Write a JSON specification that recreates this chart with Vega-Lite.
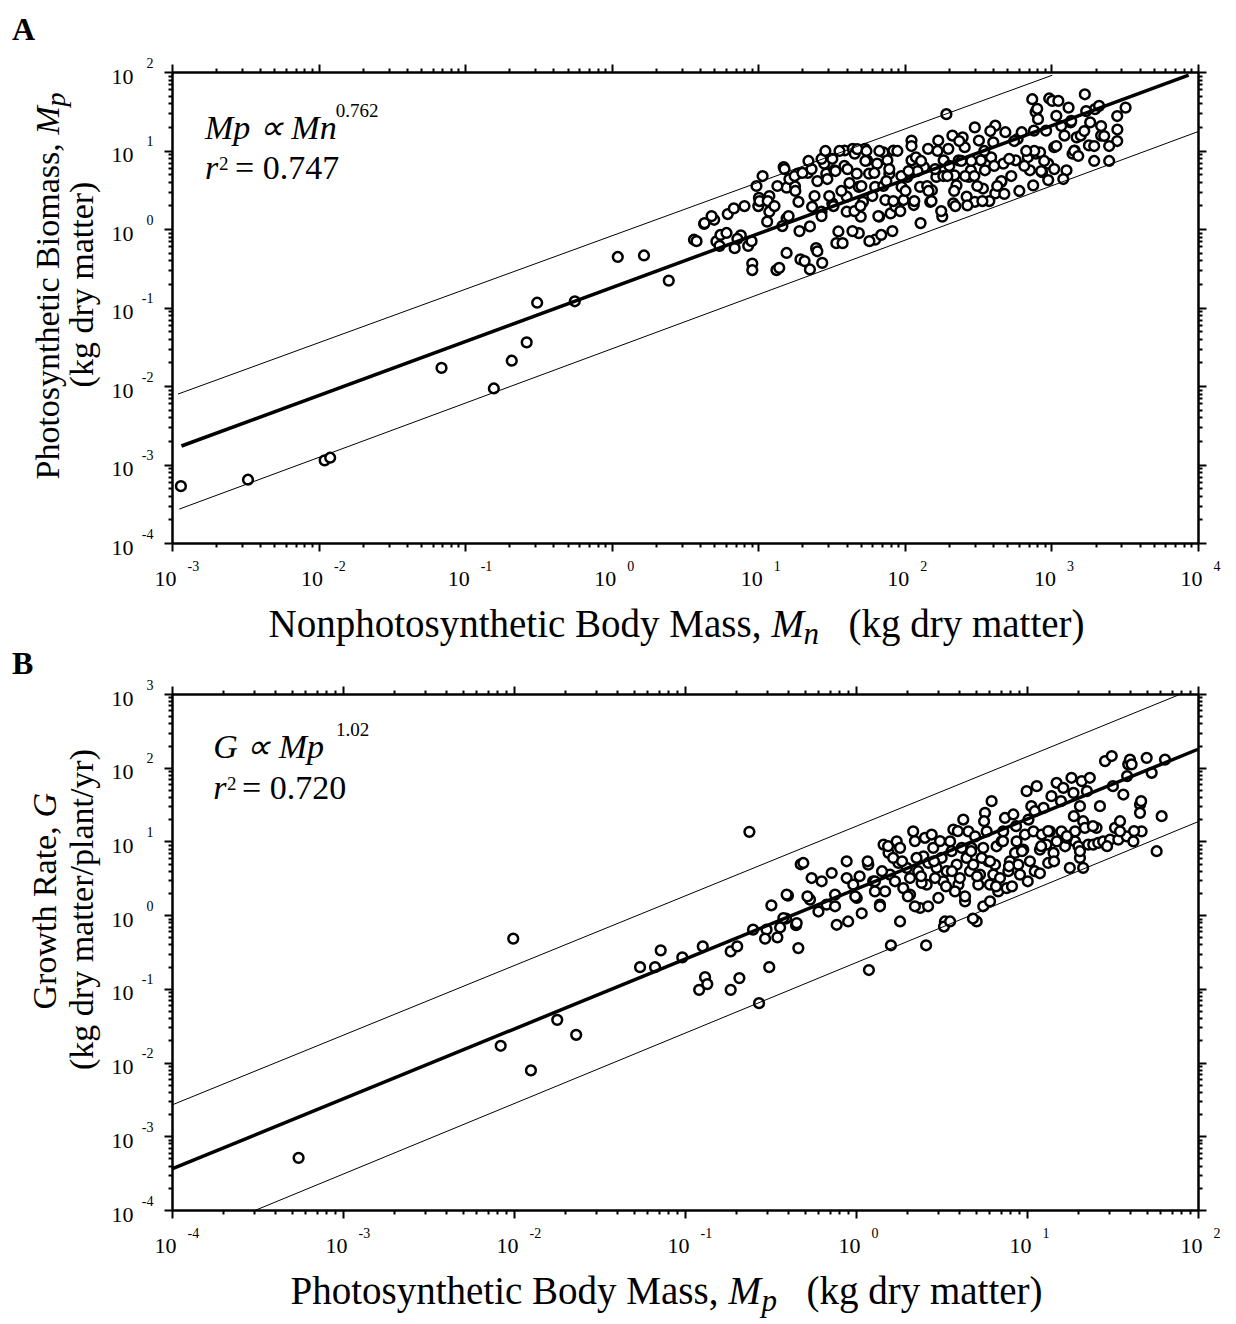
{
  "$schema": "https://vega.github.io/schema/vega-lite/v6.json",
  "background": "white",
  "autosize": {"type": "pad"},
  "padding": {"left": 12, "top": 14, "right": 10, "bottom": 4},
  "bounds": "flush",
  "spacing": 151,
  "config": {
    "font": "Liberation Serif",
    "view": {"stroke": null},
    "axis": {
      "grid": false,
      "domainColor": "black",
      "domainWidth": 2.5,
      "tickColor": "black",
      "tickWidth": 2,
      "labelFont": "Liberation Serif",
      "labelColor": "black",
      "titleFont": "Liberation Serif",
      "titleColor": "black",
      "titleFontWeight": "normal",
      "labelOverlap": false,
      "labelFlush": false,
      "labelBound": false
    }
  },
  "datasets": {
    "ptsA": [
      {"x":0.00115,"y":0.00053},{"x":0.0033,"y":0.00064},{"x":0.011,"y":0.00113},{"x":0.012,"y":0.00122},{"x":0.069,"y":0.017},{"x":0.157,"y":0.0093},{"x":0.208,"y":0.021},{"x":0.263,"y":0.036},{"x":0.31,"y":0.115},{"x":0.56,"y":0.12},{"x":1.1,"y":0.44},{"x":1.66,"y":0.46},{"x":2.45,"y":0.22},
      {"x":3.64,"y":0.73},{"x":4.27,"y":1.16},{"x":5.0,"y":1.31},{"x":5.18,"y":0.695},{"x":5.52,"y":0.84},{"x":6.19,"y":1.55},{"x":6.81,"y":1.83},{"x":6.9,"y":0.57},{"x":7.6,"y":0.83},{"x":8.53,"y":0.61},{"x":9.1,"y":0.363},{"x":9.1,"y":0.3},{"x":10.1,"y":2.5},{"x":10,"y":1.96},{"x":11.9,"y":1.66},{"x":11.5,"y":1.24},{"x":13.3,"y":0.3},{"x":13.9,"y":0.32},{"x":14.9,"y":6.15},{"x":15.6,"y":3.37},{"x":15.6,"y":1.37},{"x":15.6,"y":0.495},{"x":17.8,"y":3.5},{"x":18.6,"y":5.07},{"x":18.8,"y":2.22},{"x":19.4,"y":0.41},{"x":21.8,"y":5.17},{"x":22.5,"y":0.305},{"x":22.5,"y":1.08},{"x":23.3,"y":1.92},{"x":24.8,"y":0.57},{"x":25.3,"y":0.52},{"x":27,"y":1.66},{"x":27.3,"y":0.37},{"x":28.2,"y":6.8},{"x":29.1,"y":5.07},{"x":32,"y":7.85},{"x":32,"y":2.12},{"x":33,"y":5.6},{"x":35.2,"y":0.93},{"x":34.1,"y":0.66},{"x":37.6,"y":0.66},{"x":38.8,"y":10},{"x":40.1,"y":2.58},{"x":40.1,"y":1.66},{"x":44.1,"y":10.5},{"x":45.5,"y":9.1},{"x":47,"y":5.07},{"x":48.5,"y":3.44},{"x":48.5,"y":0.885},{"x":50,"y":1.44},{"x":51.8,"y":2.22},{"x":53.4,"y":10.5},{"x":55.2,"y":7.5},{"x":57,"y":5.07},{"x":62.7,"y":3.44},{"x":62.7,"y":0.73},{"x":64.7,"y":6.8},{"x":66.8,"y":1.44},{"x":69,"y":0.84},{"x":71.3,"y":9.5},{"x":73.6,"y":2.34},{"x":76,"y":7.5},{"x":78.4,"y":5.07},{"x":80,"y":1.58},{"x":83.6,"y":10},{"x":86.3,"y":1.92},{"x":95,"y":3.44},{"x":98,"y":2.34},{"x":104,"y":4.6},{"x":111,"y":13.4},{"x":111,"y":7.5},{"x":115,"y":2.02},{"x":119,"y":8.2},{"x":127,"y":3.44},{"x":135,"y":6.15},{"x":144,"y":10.5},{"x":149,"y":2.22},{"x":153,"y":3.12},{"x":164,"y":4.6},{"x":169,"y":13.4},{"x":180,"y":1.44},{"x":184,"y":7.5},{"x":192,"y":29},{"x":198,"y":10.5},{"x":211,"y":15.5},{"x":214,"y":2.12},{"x":218,"y":4.83},{"x":225,"y":3.6},{"x":233,"y":7.5},{"x":248,"y":14.7},{"x":256,"y":11},{"x":264,"y":2.58},{"x":273,"y":4.6},{"x":282,"y":5.6},{"x":300,"y":19.7},{"x":300,"y":2.22},{"x":320,"y":13.4},{"x":330,"y":7.5},{"x":341,"y":3.28},{"x":352,"y":5.6},{"x":388,"y":8.2},{"x":401,"y":12.7},{"x":414,"y":2.84},{"x":414,"y":20.7},{"x":455,"y":3.98},{"x":470,"y":6.8},{"x":485,"y":17.1},{"x":740,"y":45},{"x":780,"y":31},{"x":800,"y":34},{"x":570,"y":7.5},{"x":588,"y":14},{"x":966,"y":46},{"x":627,"y":17.1},{"x":690,"y":8.2},{"x":713,"y":5.6},{"x":760,"y":17.9},{"x":784,"y":9.1},{"x":810,"y":25.1},{"x":836,"y":9.5},{"x":863,"y":5.3},{"x":920,"y":17.9},{"x":950,"y":6.8},{"x":1013,"y":42.8},{"x":1045,"y":11},{"x":1080,"y":27.7},{"x":1115,"y":42.8},{"x":1227,"y":15.5},{"x":1267,"y":5.6},{"x":1309,"y":35.2},{"x":1352,"y":22.8},{"x":1394,"y":9.1},{"x":1440,"y":10},{"x":1486,"y":14.7},{"x":1585,"y":15.5},{"x":1690,"y":52},{"x":1803,"y":11.6},{"x":1838,"y":22.8},{"x":1983,"y":33.6},{"x":2113,"y":37},{"x":2183,"y":15.5},{"x":2818,"y":18.5},{"x":3206,"y":35.2},
      {"x":3.79,"y":0.70},{"x":4.3,"y":1.19},{"x":4.8,"y":1.46},{"x":5.44,"y":0.61},{"x":6.07,"y":0.89},{"x":7.2,"y":0.75},{"x":8.05,"y":1.96},{"x":9.0,"y":0.70},{"x":10.2,"y":2.27},{"x":11.9,"y":2.63},{"x":13.5,"y":3.53},{"x":15.1,"y":5.8},{"x":16.3,"y":4.33},{"x":17.7,"y":4.73},{"x":19.1,"y":0.94},{"x":20.7,"y":0.39},{"x":23.1,"y":5.8},{"x":25.3,"y":4.08},{"x":27,"y":7.8},{"x":28.7,"y":9.86},{"x":30.5,"y":2.63},{"x":33.6,"y":5.48},{"x":35.8,"y":9.86},{"x":38.7,"y":6.35},{"x":41.9,"y":3.85},{"x":45.3,"y":1.69},{"x":47.4,"y":10.4},{"x":50.5,"y":3.53},{"x":53.8,"y":7.35},{"x":57.3,"y":0.70},{"x":61.9,"y":5.17},{"x":67,"y":9.86},{"x":71.3,"y":3.53},{"x":78.3,"y":5.8},{"x":83.5,"y":2.27},{"x":88.9,"y":9.86},{"x":94.6,"y":4.73},{"x":101,"y":3.05},{"x":111,"y":11.4},{"x":122,"y":5.48},{"x":129,"y":7.35},{"x":142,"y":3.53},{"x":152,"y":2.27},{"x":167,"y":9.86},{"x":183,"y":4.73},{"x":201,"y":6.35},{"x":217,"y":3.05},{"x":235,"y":13.2},{"x":258,"y":4.73},{"x":284,"y":7.35},{"x":312,"y":3.53},{"x":348,"y":9.86},{"x":377,"y":2.27},{"x":407,"y":6.35},{"x":455,"y":4.08},{"x":515,"y":7.8},{"x":557,"y":13.2},{"x":653,"y":6.35},{"x":764,"y":9.86},{"x":893,"y":7.35},{"x":1045,"y":5.8},{"x":1167,"y":20.5},{"x":1429,"y":9.86},{"x":1675,"y":17.7},{"x":1958,"y":11.4},{"x":2291,"y":15.3},{"x":2477,"y":7.35},{"x":2811,"y":13.2},
      {"x":9.72,"y":3.53},{"x":10.7,"y":4.73},{"x":11.6,"y":2.27},{"x":12.9,"y":1.96},{"x":14.6,"y":1.09},{"x":16.1,"y":1.46},{"x":17.9,"y":3.05},{"x":20,"y":5.17},{"x":22,"y":7.35},{"x":24.2,"y":2.63},{"x":27,"y":1.46},{"x":29.6,"y":4.33},{"x":32.6,"y":1.96},{"x":36.9,"y":3.05},{"x":40.6,"y":5.8},{"x":43.9,"y":0.94},{"x":49.8,"y":1.96},{"x":54.7,"y":9.86},{"x":60,"y":2.63},{"x":65.9,"y":1.46},{"x":74.8,"y":4.08},{"x":82.2,"y":0.94},{"x":93.1,"y":1.69},{"x":106,"y":5.48},{"x":116,"y":2.27},{"x":128,"y":1.19},{"x":145,"y":3.05},{"x":161,"y":5.8},{"x":177,"y":1.69},{"x":195,"y":4.73},{"x":221,"y":1.96},{"x":243,"y":7.35},{"x":267,"y":2.0},{"x":298,"y":4.73},{"x":338,"y":2.27},{"x":383,"y":17.7},{"x":427,"y":3.53},{"x":477,"y":2.8},{"x":532,"y":4.73},{"x":604,"y":3.05},{"x":673,"y":9.86},{"x":751,"y":3.6},{"x":851,"y":5.48},{"x":951,"y":4.2},{"x":1079,"y":11.4},{"x":1205,"y":4.33},{"x":1365,"y":23.8},{"x":1524,"y":8.51},{"x":1726,"y":31.8},{"x":1958,"y":7.35},{"x":2183,"y":20.5},{"x":2477,"y":11.4},{"x":2811,"y":27.5}
    ],
    "ptsB": [
      {"x":0.00055,"y":0.00051},
      {"x":0.0099,"y":0.48},{"x":0.0179,"y":0.038},{"x":0.0231,"y":0.0238},{"x":0.00836,"y":0.0169},{"x":0.01256,"y":0.00785},{"x":0.238,"y":13.5},{"x":0.0546,"y":0.197},{"x":0.0668,"y":0.197},{"x":0.0721,"y":0.333},{"x":0.0964,"y":0.267},{"x":0.127,"y":0.377},{"x":0.131,"y":0.144},{"x":0.121,"y":0.097},{"x":0.135,"y":0.116},{"x":0.185,"y":0.322},{"x":0.202,"y":0.377},{"x":0.208,"y":0.14},{"x":0.185,"y":0.097},{"x":0.271,"y":0.064},{"x":0.311,"y":0.197},{"x":0.25,"y":0.635},{"x":0.30,"y":0.635},{"x":0.294,"y":0.48},{"x":0.347,"y":0.5},{"x":0.36,"y":0.68},{"x":0.39,"y":0.9},{"x":0.32,"y":1.36},{"x":0.40,"y":1.84},{"x":0.446,"y":0.73},{"x":0.46,"y":0.357},{"x":0.475,"y":4.9},
      {"x":0.393,"y":1.9},{"x":0.376,"y":0.914},{"x":0.45,"y":0.78},{"x":0.492,"y":5.1},{"x":0.55,"y":3.19},{"x":0.538,"y":1.62},{"x":0.603,"y":1.12},{"x":0.673,"y":1.39},{"x":0.721,"y":3.73},{"x":0.754,"y":1.9},{"x":0.771,"y":0.74},{"x":0.882,"y":5.38},{"x":0.882,"y":3.19},{"x":0.964,"y":2.59},{"x":1.01,"y":1.71},{"x":1.18,"y":4.84},{"x":1.26,"y":2.88},{"x":1.38,"y":1.39},{"x":1.48,"y":2.1},{"x":1.55,"y":6.98},{"x":1.58,"y":3.55},{"x":1.73,"y":10},{"x":1.77,"y":5.1},{"x":1.89,"y":2.33},{"x":2.07,"y":1.9},{"x":2.16,"y":13.7},{"x":2.31,"y":3.94},{"x":2.37,"y":1.25},{"x":2.48,"y":6.29},{"x":2.53,"y":11.2},{"x":2.59,"y":2.59},{"x":2.77,"y":12.4},{"x":2.96,"y":4.37},{"x":3.03,"y":1.71},{"x":3.24,"y":2.88},{"x":3.31,"y":0.82},{"x":3.55,"y":10},{"x":3.71,"y":14.5},{"x":3.88,"y":4.84},{"x":3.97,"y":2.59},{"x":4.15,"y":8.17},{"x":4.24,"y":19.8},{"x":4.34,"y":1.54},{"x":4.54,"y":13.7},{"x":4.64,"y":3.94},{"x":4.97,"y":11.7},{"x":5.08,"y":0.82},{"x":5.19,"y":2.59},{"x":5.55,"y":8.17},{"x":5.55,"y":1.32},{"x":5.68,"y":24.4},{"x":5.81,"y":13.7},{"x":5.94,"y":5.38},{"x":6.21,"y":35.2},{"x":6.35,"y":3.55},{"x":6.64,"y":8.6},{"x":6.79,"y":2.1},{"x":7.26,"y":13.7},{"x":7.43,"y":20.8},{"x":7.6,"y":2.33},{"x":7.94,"y":5.38},{"x":8.32,"y":23.2},{"x":8.69,"y":10},{"x":8.89,"y":4.84},{"x":9.51,"y":7.74},{"x":9.95,"y":48.1},{"x":10.2,"y":19.8},{"x":10.4,"y":5.38},{"x":10.6,"y":30.1},{"x":11.4,"y":56.2},{"x":11.9,"y":7.74},{"x":12.5,"y":28.5},{"x":13.3,"y":5.1},{"x":13.6,"y":13.7},{"x":13.9,"y":41.1},{"x":14.3,"y":6.98},{"x":14.9,"y":62.4},{"x":15.9,"y":13.7},{"x":16.3,"y":53.3},{"x":16.7,"y":8.6},{"x":17.8,"y":4.37},{"x":18.2,"y":73},{"x":18.7,"y":45.6},{"x":19.1,"y":10},{"x":20,"y":8.6},{"x":20.4,"y":30.1},{"x":20.9,"y":65.8},{"x":21.3,"y":18.8},{"x":21.8,"y":15.3},{"x":22.8,"y":9.06},{"x":23.3,"y":73},{"x":24.4,"y":9.06},{"x":26.1,"y":9.55},{"x":27.9,"y":10},{"x":28.6,"y":123},{"x":30.6,"y":10.6},{"x":31.3,"y":144},{"x":32.7,"y":15.3},{"x":34.2,"y":10.6},{"x":36.6,"y":43.3},{"x":38.3,"y":11.7},{"x":39.1,"y":111},{"x":40,"y":129},{"x":40.9,"y":111},{"x":45.8,"y":31.7},{"x":45.8,"y":24.4},{"x":50.1,"y":136},{"x":53.6,"y":85.3},{"x":57.3,"y":7.36},{"x":61.3,"y":22},{"x":64.1,"y":129},
      {"x":1.45,"y":9.06},{"x":1.65,"y":5.97},{"x":1.81,"y":8.17},{"x":1.98,"y":4.37},{"x":2.07,"y":3.19},{"x":2.26,"y":5.97},{"x":2.42,"y":2.73},{"x":2.65,"y":5.1},{"x":2.83,"y":8.17},{"x":2.9,"y":3.19},{"x":3.17,"y":5.97},{"x":3.39,"y":3.94},{"x":3.62,"y":7.36},{"x":3.79,"y":2.1},{"x":4.05,"y":3.19},{"x":4.43,"y":5.97},{"x":4.74,"y":8.17},{"x":4.85,"y":4.84},{"x":5.31,"y":3.55},{"x":5.43,"y":5.97},{"x":6.07,"y":2.59},{"x":6.5,"y":4.84},{"x":6.95,"y":3.19},{"x":7.11,"y":10},{"x":7.78,"y":3.94},{"x":8.51,"y":6.98},{"x":9.1,"y":3.55},{"x":9.73,"y":12.4},{"x":10.9,"y":13.7},{"x":11.1,"y":3.94},{"x":12.2,"y":12.4},{"x":13,"y":9.06},{"x":14.9,"y":10},{"x":17.1,"y":11.2},{"x":19.1,"y":13.7},{"x":20.4,"y":5.97},{"x":21.3,"y":4.37},{"x":25.5,"y":15.3},{"x":35,"y":13.7},{"x":41.9,"y":10},{"x":46.8,"y":13.7},
      {"x":1.19,"y":0.18},{"x":1.6,"y":0.39},{"x":2.57,"y":0.39},{"x":3.27,"y":0.70},{"x":3.55,"y":0.82},{"x":4.83,"y":0.9},{"x":6.08,"y":1.54},{"x":8.17,"y":2.46},{"x":11.9,"y":3.7},{"x":0.754,"y":1.32},{"x":0.9,"y":0.82},{"x":1.08,"y":1.06},{"x":1.38,"y":1.32},{"x":1.81,"y":0.82},{"x":2.21,"y":1.32},{"x":0.63,"y":2.88},{"x":0.52,"y":1.8},{"x":0.99,"y":1.8},{"x":1.29,"y":2.88},
      {"x":1.05,"y":3.37},{"x":1.17,"y":5.38},{"x":1.29,"y":2.1},{"x":1.42,"y":3.94},{"x":1.54,"y":8.61},{"x":1.69,"y":2.88},{"x":1.86,"y":5.38},{"x":2.01,"y":1.8},{"x":2.21,"y":10.1},{"x":2.4,"y":3.37},{"x":2.64,"y":1.32},{"x":2.86,"y":5.38},{"x":3.1,"y":10.1},{"x":3.36,"y":2.46},{"x":3.64,"y":3.94},{"x":3.94,"y":13.8},{"x":4.34,"y":1.8},{"x":4.71,"y":7.36},{"x":5.1,"y":3.37},{"x":5.61,"y":18.8},{"x":6.08,"y":5.38},{"x":6.59,"y":2.46},{"x":7.24,"y":10.1},{"x":7.85,"y":4.6},{"x":8.63,"y":16.1},{"x":9.35,"y":7.36},{"x":10.1,"y":2.88},{"x":11.1,"y":25.7},{"x":12.1,"y":8.61},{"x":13.3,"y":13.8},{"x":14.4,"y":5.38},{"x":15.8,"y":35.2},{"x":17.1,"y":11.8},{"x":18.8,"y":22},{"x":20.4,"y":7.36},{"x":22.4,"y":48.1},{"x":24.3,"y":16.1},{"x":26.7,"y":30.1},{"x":29.4,"y":8.61},{"x":31.8,"y":56.2},{"x":35,"y":18.8},{"x":38.5,"y":76.9},{"x":42.3,"y":13.8},{"x":46.5,"y":35.2}
    ],
    "linesA": [
      {"g":"upper","x":0.0011,"y":0.0079},{"g":"upper","x":1014,"y":91},
      {"g":"lower","x":0.00112,"y":0.00027},{"g":"lower","x":10000,"y":17.4}
    ],
    "fitA": [{"x":0.00116,"y":0.00172},{"x":8630,"y":91}],
    "linesB": [
      {"g":"upper","x":0.0001,"y":0.00266},{"g":"upper","x":79.4,"y":1000},
      {"g":"lower","x":0.00031,"y":0.0001},{"g":"lower","x":100,"y":18.5}
    ],
    "fitB": [{"x":0.0001,"y":0.00036},{"x":100,"y":178}],
    "annA_it": [{"x":0.00168,"y":14.0,"t":"Mp ∝ Mn"},{"x":0.00168,"y":4.34,"t":"r"}],
    "annA_reg": [{"x":0.00269,"y":4.34,"t":"= 0.747"}],
    "annA_sup": [{"x":0.01312,"y":26.7,"t":"0.762"},{"x":0.00209,"y":5.6,"t":"2"}],
    "annB_it": [{"x":0.000174,"y":135,"t":"G  ∝ Mp"},{"x":0.000174,"y":37.4,"t":"r"}],
    "annB_reg": [{"x":0.000257,"y":37.4,"t":"= 0.720"}],
    "annB_sup": [{"x":0.00091,"y":268,"t":"1.02"},{"x":0.00021,"y":50,"t":"2"}]
  },
  "vconcat": [
    {
      "width": 1026,
      "height": 471,
      "title": {"text": "A", "anchor": "start", "frame": "group", "dx": -160, "offset": -16, "baseline": "alphabetic", "font": "Liberation Serif", "fontSize": 32, "fontWeight": "bold", "color": "black"},
      "resolve": {"axis": {"x": "independent", "y": "independent"}},
      "layer": [
        {
          "data": {"name": "ptsA"},
          "mark": {"type": "circle", "size": 95, "fill": "white", "stroke": "black", "strokeWidth": 2.5, "opacity": 1},
          "encoding": {
            "x": {"field": "x", "type": "quantitative", "scale": {"type": "log", "domain": [0.001, 10000], "nice": false},
              "axis": {"orient": "bottom", "values": [0.001,0.002,0.003,0.004,0.005,0.006,0.007,0.008,0.009,0.01,0.02,0.03,0.04,0.05,0.06,0.07,0.08,0.09,0.1,0.2,0.3,0.4,0.5,0.6,0.7,0.8,0.9,1,2,3,4,5,6,7,8,9,10,20,30,40,50,60,70,80,90,100,200,300,400,500,600,700,800,900,1000,2000,3000,4000,5000,6000,7000,8000,9000,10000],
                "labelExpr": "abs(log(datum.value)/LN10 - round(log(datum.value)/LN10)) < 0.001 ? '10' : ''",
                "labelFontSize": 22, "labelPadding": 17, "labelOffset": -7, "labelBaseline": "top",
                "tickSize": {"condition": {"test": "abs(log(datum.value)/LN10 - round(log(datum.value)/LN10)) < 0.001", "value": 8}, "value": 4},
                "title": "Nonphotosynthetic Body Mass,", "titleFontSize": 39, "titleX": 96, "titleY": 93, "titleAlign": "left", "titleBaseline": "alphabetic", "titleAngle": 0}},
            "y": {"field": "y", "type": "quantitative", "scale": {"type": "log", "domain": [0.0001, 100], "nice": false},
              "axis": {"orient": "left", "values": [0.0001,0.0002,0.0003,0.0004,0.0005,0.0006,0.0007,0.0008,0.0009,0.001,0.002,0.003,0.004,0.005,0.006,0.007,0.008,0.009,0.01,0.02,0.03,0.04,0.05,0.06,0.07,0.08,0.09,0.1,0.2,0.3,0.4,0.5,0.6,0.7,0.8,0.9,1,2,3,4,5,6,7,8,9,10,20,30,40,50,60,70,80,90,100],
                "labelExpr": "abs(log(datum.value)/LN10 - round(log(datum.value)/LN10)) < 0.001 ? '10' : ''",
                "labelFontSize": 22, "labelPadding": 31, "labelOffset": 4, "labelAlign": "right", "labelBaseline": "middle",
                "tickSize": {"condition": {"test": "abs(log(datum.value)/LN10 - round(log(datum.value)/LN10)) < 0.001", "value": 8}, "value": 4},
                "title": "Photosynthetic Biomass,", "titleFontSize": 34, "titleX": -114, "titleY": 407, "titleAlign": "left", "titleBaseline": "alphabetic", "titleAngle": 270}}
          }
        },
        {
          "data": {"name": "linesA"},
          "mark": {"type": "line", "color": "black", "strokeWidth": 1},
          "encoding": {
            "x": {"field": "x", "type": "quantitative", "scale": {"type": "log", "domain": [0.001, 10000], "nice": false},
              "axis": {"orient": "bottom", "values": [0.001,0.01,0.1,1,10,100,1000,10000], "labelExpr": "'' + round(log(datum.value)/LN10)",
                "labelFontSize": 14, "labelPadding": 16, "labelOffset": 15, "labelAlign": "left", "labelBaseline": "top", "ticks": false, "domain": false,
                "title": "(kg dry matter)", "titleFontSize": 39, "titleX": 676, "titleY": 93, "titleAlign": "left", "titleBaseline": "alphabetic", "titleAngle": 0}},
            "y": {"field": "y", "type": "quantitative", "scale": {"type": "log", "domain": [0.0001, 100], "nice": false},
              "axis": {"orient": "left", "values": [0.0001,0.001,0.01,0.1,1,10,100], "labelExpr": "'' + round(log(datum.value)/LN10)",
                "labelFontSize": 14, "labelPadding": 19, "labelOffset": -9, "labelAlign": "right", "labelBaseline": "middle", "ticks": false, "domain": false,
                "title": "(kg dry matter)", "titleFontSize": 34, "titleX": -80, "titleY": 212, "titleAlign": "center", "titleBaseline": "alphabetic", "titleAngle": 270}},
            "detail": {"field": "g", "type": "nominal"}
          }
        },
        {
          "data": {"name": "fitA"},
          "mark": {"type": "line", "color": "black", "strokeWidth": 3.5},
          "encoding": {
            "x": {"field": "x", "type": "quantitative", "scale": {"type": "log", "domain": [0.001, 10000], "nice": false},
              "axis": {"orient": "top", "values": [0.001,0.002,0.003,0.004,0.005,0.006,0.007,0.008,0.009,0.01,0.02,0.03,0.04,0.05,0.06,0.07,0.08,0.09,0.1,0.2,0.3,0.4,0.5,0.6,0.7,0.8,0.9,1,2,3,4,5,6,7,8,9,10,20,30,40,50,60,70,80,90,100,200,300,400,500,600,700,800,900,1000,2000,3000,4000,5000,6000,7000,8000,9000,10000],
                "labels": false,
                "tickSize": {"condition": {"test": "abs(log(datum.value)/LN10 - round(log(datum.value)/LN10)) < 0.001", "value": 8}, "value": 4},
                "title": "M", "titleFontStyle": "italic", "titleFontSize": 39, "titleX": 599, "titleY": 564, "titleAlign": "left", "titleBaseline": "alphabetic", "titleAngle": 0}},
            "y": {"field": "y", "type": "quantitative", "scale": {"type": "log", "domain": [0.0001, 100], "nice": false},
              "axis": {"orient": "right", "values": [0.0001,0.0002,0.0003,0.0004,0.0005,0.0006,0.0007,0.0008,0.0009,0.001,0.002,0.003,0.004,0.005,0.006,0.007,0.008,0.009,0.01,0.02,0.03,0.04,0.05,0.06,0.07,0.08,0.09,0.1,0.2,0.3,0.4,0.5,0.6,0.7,0.8,0.9,1,2,3,4,5,6,7,8,9,10,20,30,40,50,60,70,80,90,100],
                "labels": false,
                "tickSize": {"condition": {"test": "abs(log(datum.value)/LN10 - round(log(datum.value)/LN10)) < 0.001", "value": 8}, "value": 4},
                "title": "M", "titleFontStyle": "italic", "titleFontSize": 34, "titleX": -1140, "titleY": 62, "titleAlign": "left", "titleBaseline": "alphabetic", "titleAngle": 270}}
          }
        },
        {
          "data": {"name": "annA_it"},
          "mark": {"type": "text", "align": "left", "baseline": "alphabetic", "font": "Liberation Serif", "fontStyle": "italic", "fontSize": 34, "color": "black"},
          "encoding": {
            "x": {"field": "x", "type": "quantitative", "scale": {"type": "log", "domain": [0.001, 10000], "nice": false},
              "axis": {"orient": "bottom", "labels": false, "ticks": false, "domain": false, "title": "n", "titleFontStyle": "italic", "titleFontSize": 31, "titleX": 631, "titleY": 100, "titleAlign": "left", "titleBaseline": "alphabetic", "titleAngle": 0}},
            "y": {"field": "y", "type": "quantitative", "scale": {"type": "log", "domain": [0.0001, 100], "nice": false},
              "axis": {"orient": "left", "labels": false, "ticks": false, "domain": false, "title": "p", "titleFontStyle": "italic", "titleFontSize": 28, "titleX": -108, "titleY": 34, "titleAlign": "left", "titleBaseline": "alphabetic", "titleAngle": 270}},
            "text": {"field": "t", "type": "nominal"}
          }
        },
        {
          "data": {"name": "annA_reg"},
          "mark": {"type": "text", "align": "left", "baseline": "alphabetic", "font": "Liberation Serif", "fontSize": 34, "color": "black"},
          "encoding": {
            "x": {"field": "x", "type": "quantitative", "scale": {"type": "log", "domain": [0.001, 10000], "nice": false}, "axis": null},
            "y": {"field": "y", "type": "quantitative", "scale": {"type": "log", "domain": [0.0001, 100], "nice": false}, "axis": null},
            "text": {"field": "t", "type": "nominal"}
          }
        },
        {
          "data": {"name": "annA_sup"},
          "mark": {"type": "text", "align": "left", "baseline": "alphabetic", "font": "Liberation Serif", "fontSize": 19, "color": "black"},
          "encoding": {
            "x": {"field": "x", "type": "quantitative", "scale": {"type": "log", "domain": [0.001, 10000], "nice": false}, "axis": null},
            "y": {"field": "y", "type": "quantitative", "scale": {"type": "log", "domain": [0.0001, 100], "nice": false}, "axis": null},
            "text": {"field": "t", "type": "nominal"}
          }
        }
      ]
    },
    {
      "width": 1026,
      "height": 516,
      "title": {"text": "B", "anchor": "start", "frame": "group", "dx": -160, "offset": -28, "baseline": "alphabetic", "font": "Liberation Serif", "fontSize": 32, "fontWeight": "bold", "color": "black"},
      "resolve": {"axis": {"x": "independent", "y": "independent"}},
      "layer": [
        {
          "data": {"name": "ptsB"},
          "mark": {"type": "circle", "size": 95, "fill": "white", "stroke": "black", "strokeWidth": 2.5, "opacity": 1},
          "encoding": {
            "x": {"field": "x", "type": "quantitative", "scale": {"type": "log", "domain": [0.0001, 100], "nice": false},
              "axis": {"orient": "bottom", "values": [0.0001,0.0002,0.0003,0.0004,0.0005,0.0006,0.0007,0.0008,0.0009,0.001,0.002,0.003,0.004,0.005,0.006,0.007,0.008,0.009,0.01,0.02,0.03,0.04,0.05,0.06,0.07,0.08,0.09,0.1,0.2,0.3,0.4,0.5,0.6,0.7,0.8,0.9,1,2,3,4,5,6,7,8,9,10,20,30,40,50,60,70,80,90,100],
                "labelExpr": "abs(log(datum.value)/LN10 - round(log(datum.value)/LN10)) < 0.001 ? '10' : ''",
                "labelFontSize": 22, "labelPadding": 17, "labelOffset": -7, "labelBaseline": "top",
                "tickSize": {"condition": {"test": "abs(log(datum.value)/LN10 - round(log(datum.value)/LN10)) < 0.001", "value": 8}, "value": 4},
                "title": "Photosynthetic Body Mass,", "titleFontSize": 39, "titleX": 118, "titleY": 93, "titleAlign": "left", "titleBaseline": "alphabetic", "titleAngle": 0}},
            "y": {"field": "y", "type": "quantitative", "scale": {"type": "log", "domain": [0.0001, 1000], "nice": false},
              "axis": {"orient": "left", "values": [0.0001,0.0002,0.0003,0.0004,0.0005,0.0006,0.0007,0.0008,0.0009,0.001,0.002,0.003,0.004,0.005,0.006,0.007,0.008,0.009,0.01,0.02,0.03,0.04,0.05,0.06,0.07,0.08,0.09,0.1,0.2,0.3,0.4,0.5,0.6,0.7,0.8,0.9,1,2,3,4,5,6,7,8,9,10,20,30,40,50,60,70,80,90,100,200,300,400,500,600,700,800,900,1000],
                "labelExpr": "abs(log(datum.value)/LN10 - round(log(datum.value)/LN10)) < 0.001 ? '10' : ''",
                "labelFontSize": 22, "labelPadding": 31, "labelOffset": 4, "labelAlign": "right", "labelBaseline": "middle",
                "tickSize": {"condition": {"test": "abs(log(datum.value)/LN10 - round(log(datum.value)/LN10)) < 0.001", "value": 8}, "value": 4},
                "title": "Growth Rate,", "titleFontSize": 34, "titleX": -117, "titleY": 315, "titleAlign": "left", "titleBaseline": "alphabetic", "titleAngle": 270}}
          }
        },
        {
          "data": {"name": "linesB"},
          "mark": {"type": "line", "color": "black", "strokeWidth": 1},
          "encoding": {
            "x": {"field": "x", "type": "quantitative", "scale": {"type": "log", "domain": [0.0001, 100], "nice": false},
              "axis": {"orient": "bottom", "values": [0.0001,0.001,0.01,0.1,1,10,100], "labelExpr": "'' + round(log(datum.value)/LN10)",
                "labelFontSize": 14, "labelPadding": 16, "labelOffset": 15, "labelAlign": "left", "labelBaseline": "top", "ticks": false, "domain": false,
                "title": "(kg dry matter)", "titleFontSize": 39, "titleX": 634, "titleY": 93, "titleAlign": "left", "titleBaseline": "alphabetic", "titleAngle": 0}},
            "y": {"field": "y", "type": "quantitative", "scale": {"type": "log", "domain": [0.0001, 1000], "nice": false},
              "axis": {"orient": "left", "values": [0.0001,0.001,0.01,0.1,1,10,100,1000], "labelExpr": "'' + round(log(datum.value)/LN10)",
                "labelFontSize": 14, "labelPadding": 19, "labelOffset": -9, "labelAlign": "right", "labelBaseline": "middle", "ticks": false, "domain": false,
                "title": "(kg dry matter/plant/yr)", "titleFontSize": 34, "titleX": -80, "titleY": 215, "titleAlign": "center", "titleBaseline": "alphabetic", "titleAngle": 270}},
            "detail": {"field": "g", "type": "nominal"}
          }
        },
        {
          "data": {"name": "fitB"},
          "mark": {"type": "line", "color": "black", "strokeWidth": 3.5},
          "encoding": {
            "x": {"field": "x", "type": "quantitative", "scale": {"type": "log", "domain": [0.0001, 100], "nice": false},
              "axis": {"orient": "top", "values": [0.0001,0.0002,0.0003,0.0004,0.0005,0.0006,0.0007,0.0008,0.0009,0.001,0.002,0.003,0.004,0.005,0.006,0.007,0.008,0.009,0.01,0.02,0.03,0.04,0.05,0.06,0.07,0.08,0.09,0.1,0.2,0.3,0.4,0.5,0.6,0.7,0.8,0.9,1,2,3,4,5,6,7,8,9,10,20,30,40,50,60,70,80,90,100],
                "labels": false,
                "tickSize": {"condition": {"test": "abs(log(datum.value)/LN10 - round(log(datum.value)/LN10)) < 0.001", "value": 8}, "value": 4},
                "title": "M", "titleFontStyle": "italic", "titleFontSize": 39, "titleX": 556, "titleY": 609, "titleAlign": "left", "titleBaseline": "alphabetic", "titleAngle": 0}},
            "y": {"field": "y", "type": "quantitative", "scale": {"type": "log", "domain": [0.0001, 1000], "nice": false},
              "axis": {"orient": "right", "values": [0.0001,0.0002,0.0003,0.0004,0.0005,0.0006,0.0007,0.0008,0.0009,0.001,0.002,0.003,0.004,0.005,0.006,0.007,0.008,0.009,0.01,0.02,0.03,0.04,0.05,0.06,0.07,0.08,0.09,0.1,0.2,0.3,0.4,0.5,0.6,0.7,0.8,0.9,1,2,3,4,5,6,7,8,9,10,20,30,40,50,60,70,80,90,100,200,300,400,500,600,700,800,900,1000],
                "labels": false,
                "tickSize": {"condition": {"test": "abs(log(datum.value)/LN10 - round(log(datum.value)/LN10)) < 0.001", "value": 8}, "value": 4},
                "title": "G", "titleFontStyle": "italic", "titleFontSize": 34, "titleX": -1143, "titleY": 123, "titleAlign": "left", "titleBaseline": "alphabetic", "titleAngle": 270}}
          }
        },
        {
          "data": {"name": "annB_it"},
          "mark": {"type": "text", "align": "left", "baseline": "alphabetic", "font": "Liberation Serif", "fontStyle": "italic", "fontSize": 34, "color": "black"},
          "encoding": {
            "x": {"field": "x", "type": "quantitative", "scale": {"type": "log", "domain": [0.0001, 100], "nice": false},
              "axis": {"orient": "bottom", "labels": false, "ticks": false, "domain": false, "title": "p", "titleFontStyle": "italic", "titleFontSize": 31, "titleX": 589, "titleY": 100, "titleAlign": "left", "titleBaseline": "alphabetic", "titleAngle": 0}},
            "y": {"field": "y", "type": "quantitative", "scale": {"type": "log", "domain": [0.0001, 1000], "nice": false}, "axis": null},
            "text": {"field": "t", "type": "nominal"}
          }
        },
        {
          "data": {"name": "annB_reg"},
          "mark": {"type": "text", "align": "left", "baseline": "alphabetic", "font": "Liberation Serif", "fontSize": 34, "color": "black"},
          "encoding": {
            "x": {"field": "x", "type": "quantitative", "scale": {"type": "log", "domain": [0.0001, 100], "nice": false}, "axis": null},
            "y": {"field": "y", "type": "quantitative", "scale": {"type": "log", "domain": [0.0001, 1000], "nice": false}, "axis": null},
            "text": {"field": "t", "type": "nominal"}
          }
        },
        {
          "data": {"name": "annB_sup"},
          "mark": {"type": "text", "align": "left", "baseline": "alphabetic", "font": "Liberation Serif", "fontSize": 19, "color": "black"},
          "encoding": {
            "x": {"field": "x", "type": "quantitative", "scale": {"type": "log", "domain": [0.0001, 100], "nice": false}, "axis": null},
            "y": {"field": "y", "type": "quantitative", "scale": {"type": "log", "domain": [0.0001, 1000], "nice": false}, "axis": null},
            "text": {"field": "t", "type": "nominal"}
          }
        }
      ]
    }
  ]
}
